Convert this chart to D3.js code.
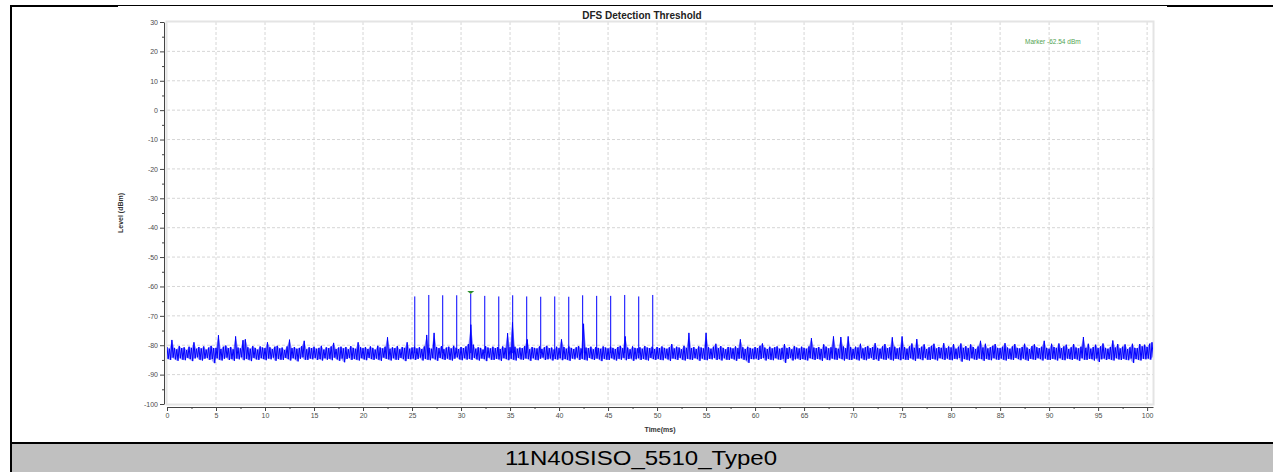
<!DOCTYPE html>
<html>
<head>
<meta charset="utf-8">
<script src="https://cdn.jsdelivr.net/npm/d3@7"></script>
<style>
  body { margin: 0; background: #fff; }
  svg text { font-family: "Liberation Sans", Arial, sans-serif; }
</style>
</head>
<body>
<script>
// axis ticks
var xTicks = [0, 5, 10, 15, 20, 25, 30, 35, 40, 45, 50, 55, 60, 65, 70, 75, 80, 85, 90, 95, 100];
var xMinorTicks = [2.5, 7.5, 12.5, 17.5, 22.5, 27.5, 32.5, 37.5, 42.5, 47.5, 52.5, 57.5, 62.5, 67.5, 72.5, 77.5, 82.5, 87.5, 92.5, 97.5];
var yTicks = [-100, -90, -80, -70, -60, -50, -40, -30, -20, -10, 0, 10, 20, 30];
var yMinorTicks = [-95, -85, -75, -65, -55, -45, -35, -25, -15, -5, 5, 15, 25];

// radar pulses (ms, dBm), rising from the noise floor
var pulseTimes = [25.28, 26.71, 28.13, 29.56, 30.99, 32.42, 33.85, 35.27, 36.70, 38.13, 39.56, 40.99, 42.41, 43.84, 45.27, 46.70, 48.13, 49.56];
var pulseLevels = [-63.4, -62.9, -63.0, -63.0, -62.5, -63.2, -63.4, -63.0, -63.4, -63.5, -63.4, -63.5, -63.0, -63.2, -63.2, -62.9, -63.4, -62.9];
var floorLevel = -82.7;
var markerIndex = 4;
var markerLevel = -62.54;

// noise floor, one high and one low reading every 0.25 ms
var noiseStep = 0.25;
var noiseHigh = [
  -80.6, -81.2, -78.2, -80.9, -81.4, -80.3, -81.0, -80.7, -81.6, -80.5, -80.9, -79.0, -81.2, -80.6, -81.1, -80.4, -81.5, -80.8, -80.2, -81.0,
  -80.9, -76.6, -81.3, -80.5, -80.1, -81.0, -80.6, -81.4, -77.0, -80.8, -81.1, -78.3, -78.0, -80.7, -81.2, -80.3, -80.9, -81.5, -80.4, -80.8,
  -81.0, -79.0, -80.7, -81.3, -80.5, -80.2, -81.1, -80.8, -81.6, -80.4, -78.1, -81.0, -80.6, -81.2, -80.9, -80.3, -78.5, -81.4, -80.7, -81.0,
  -80.5, -81.2, -80.9, -80.2, -81.5, -80.7, -81.0, -80.4, -79.2, -81.3, -80.8, -80.5, -81.1, -80.6, -81.4, -80.3, -80.9, -81.2, -79.0, -80.7,
  -81.0, -80.6, -81.3, -80.4, -80.9, -81.5, -80.2, -80.8, -81.1, -80.5, -77.3, -81.2, -80.7, -81.0, -80.3, -81.4, -80.6, -80.9, -79.0, -81.2,
  -80.8, -80.5, -81.1, -80.7, -81.3, -80.4, -76.5, -80.9, -81.2, -75.8, -80.6, -81.0, -80.3, -81.4, -80.8, -80.5, -81.1, -80.2, -80.9, -81.3,
  -80.6, -81.0, -80.4, -79.6, -73.0, -79.8, -81.2, -80.7, -80.9, -81.5, -80.3, -80.8, -81.1, -80.5, -81.0, -80.6, -81.3, -80.4, -80.9, -75.9,
  -80.7, -72.2, -80.5, -81.2, -80.8, -81.0, -80.3, -78.0, -81.4, -80.6, -80.9, -81.1, -80.4, -81.3, -80.7, -80.2, -81.0, -80.8, -81.5, -80.5,
  -81.0, -78.0, -80.6, -81.2, -80.4, -80.9, -81.3, -80.7, -80.3, -81.1, -72.7, -80.8, -81.0, -80.5, -81.4, -80.6, -80.9, -81.2, -80.4, -80.8,
  -81.1, -80.5, -80.9, -81.3, -80.6, -80.2, -81.0, -77.0, -80.8, -81.4, -80.4, -80.9, -81.1, -80.7, -81.2, -80.3, -80.8, -81.0, -80.5, -81.3,
  -80.6, -81.0, -80.4, -80.9, -81.2, -80.7, -79.6, -81.1, -80.5, -80.8, -81.4, -80.2, -80.9, -75.8, -81.0, -80.6, -81.3, -80.4, -80.8, -81.1,
  -75.8, -80.7, -81.2, -80.5, -79.5, -81.0, -80.3, -80.9, -81.4, -80.6, -80.8, -81.1, -80.4, -81.0, -78.0, -80.7, -81.3, -80.5, -80.9, -81.2,
  -80.6, -81.0, -80.2, -79.4, -80.8, -81.3, -80.5, -81.1, -80.7, -80.4, -81.2, -80.9, -79.6, -81.0, -80.6, -81.4, -80.3, -80.8, -81.1, -80.5,
  -80.9, -81.2, -80.4, -77.6, -80.8, -81.0, -80.6, -81.3, -79.7, -80.5, -81.1, -80.7, -77.0, -80.9, -81.2, -77.2, -80.4, -81.0, -77.0, -80.6,
  -81.3, -80.5, -80.8, -79.5, -81.1, -80.7, -80.3, -81.0, -80.6, -79.3, -80.9, -81.2, -80.4, -79.6, -81.0, -80.7, -77.3, -80.5, -81.1, -80.8,
  -77.0, -80.6, -81.2, -80.4, -79.4, -80.9, -77.9, -81.0, -80.5, -79.7, -81.3, -80.7, -80.2, -79.5, -81.1, -80.6, -80.9, -79.3, -81.0, -80.4,
  -80.8, -79.6, -81.2, -80.5, -79.4, -80.9, -80.3, -81.0, -79.7, -80.6, -81.3, -80.4, -78.5, -80.8, -79.5, -81.1, -80.7, -80.2, -79.6, -80.9,
  -81.0, -80.5, -79.3, -80.8, -81.2, -80.4, -79.6, -80.9, -81.1, -80.6, -79.5, -80.8, -81.3, -80.3, -79.7, -80.7, -81.0, -80.5, -78.5, -80.9,
  -81.2, -79.5, -80.6, -80.9, -79.4, -81.0, -80.4, -79.8, -81.3, -80.7, -79.6, -80.8, -81.1, -80.5, -77.2, -80.9, -79.5, -81.2, -80.6, -79.8,
  -81.0, -80.4, -79.4, -80.9, -81.2, -80.6, -78.4, -80.8, -79.6, -81.1, -80.5, -79.7, -81.3, -80.7, -79.5, -80.9, -81.0, -79.6, -80.4, -79.8,
  -80.6, -79.5, -79.0
];
var noiseLow = [
  -84.6, -85.0, -84.2, -84.8, -85.3, -84.4, -84.9, -85.1, -84.3, -84.7, -85.4, -84.5, -84.1, -84.9, -85.2, -84.6, -84.3, -85.0, -84.7, -86.1,
  -84.4, -84.9, -85.2, -84.6, -84.2, -85.0, -84.7, -85.3, -84.5, -84.8, -84.1, -85.1, -84.6, -84.9, -85.4, -84.3, -84.8, -85.0, -84.4, -84.7,
  -85.1, -84.5, -84.8, -84.2, -85.3, -84.6, -84.9, -85.0, -84.3, -84.7, -85.2, -84.4, -84.8, -85.5, -84.6, -84.1, -84.9, -85.0, -84.5, -84.8,
  -84.3, -85.0, -84.7, -85.2, -84.4, -84.9, -84.6, -85.1, -84.2, -84.8, -85.3, -84.5, -85.8, -84.7, -84.3, -85.0, -84.6, -84.9, -85.2, -84.4,
  -84.8, -85.1, -84.3, -84.7, -85.0, -84.5, -84.9, -85.3, -84.2, -84.6, -84.8, -85.2, -84.4, -84.9, -85.0, -84.3, -84.7, -85.4, -84.6, -84.8,
  -84.5, -85.0, -84.7, -84.2, -85.2, -84.6, -84.9, -85.1, -84.4, -84.8, -85.3, -84.3, -84.7, -85.0, -84.5, -84.9, -85.2, -84.6, -84.1, -84.8,
  -85.1, -84.4, -84.9, -84.6, -85.0, -84.3, -84.8, -85.2, -84.5, -84.7, -85.4, -84.2, -84.9, -85.0, -84.6, -84.8, -85.3, -84.4, -84.7, -85.1,
  -84.6, -84.9, -85.2, -84.3, -84.8, -85.0, -84.5, -84.7, -85.3, -84.4, -84.9, -85.1, -84.6, -84.2, -85.0, -84.8, -84.5, -85.2, -84.7, -84.9,
  -84.4, -85.1, -84.7, -84.9, -85.3, -84.5, -84.8, -84.2, -85.0, -84.6, -84.9, -85.2, -84.3, -84.7, -85.0, -84.5, -84.8, -85.4, -84.6, -84.9,
  -85.0, -84.4, -84.8, -85.2, -84.6, -84.9, -84.3, -85.1, -84.7, -84.5, -85.3, -84.8, -84.4, -85.0, -84.6, -84.9, -85.2, -84.3, -84.7, -85.0,
  -84.6, -84.9, -85.1, -84.4, -84.8, -85.3, -84.5, -84.7, -85.0, -84.3, -84.9, -85.2, -84.6, -84.8, -85.0, -84.4, -84.7, -85.3, -84.5, -84.9,
  -85.1, -84.6, -84.8, -84.3, -85.0, -84.7, -85.2, -84.4, -84.9, -85.0, -84.5, -84.8, -85.3, -84.6, -84.4, -84.9, -85.1, -86.0, -84.7, -84.8,
  -84.5, -85.0, -84.7, -84.3, -85.2, -84.6, -84.9, -85.1, -84.4, -84.8, -85.0, -84.6, -86.0, -84.7, -84.3, -85.2, -84.8, -84.5, -85.0, -84.7,
  -84.9, -85.2, -84.4, -84.7, -85.0, -84.6, -84.8, -85.3, -84.3, -84.9, -85.1, -84.5, -84.8, -85.0, -84.4, -84.7, -85.2, -84.6, -84.9, -85.0,
  -84.5, -84.8, -85.2, -84.4, -84.9, -85.1, -84.6, -84.3, -85.0, -84.7, -85.3, -84.5, -84.8, -85.0, -84.4, -84.9, -85.2, -84.6, -84.7, -85.1,
  -84.6, -84.9, -85.0, -84.4, -84.8, -85.3, -84.5, -84.7, -85.1, -84.3, -84.9, -85.0, -84.6, -84.8, -85.2, -84.4, -84.7, -85.0, -84.5, -84.9,
  -85.1, -84.6, -84.8, -84.3, -85.6, -84.7, -84.9, -85.2, -84.4, -84.8, -85.0, -84.5, -84.7, -85.3, -84.6, -84.9, -85.1, -84.4, -84.8, -85.0,
  -84.5, -84.9, -85.2, -84.6, -84.8, -85.0, -84.3, -84.7, -85.1, -84.5, -84.9, -85.3, -84.6, -84.8, -85.0, -84.4, -84.7, -85.2, -84.5, -84.9,
  -85.0, -84.6, -84.8, -85.2, -84.4, -84.9, -85.1, -84.5, -84.7, -85.0, -84.6, -84.8, -85.3, -84.4, -84.9, -85.0, -84.6, -84.7, -85.2, -84.5,
  -85.7, -84.8, -84.5, -85.0, -84.7, -84.9, -85.2, -84.4, -84.8, -85.0, -84.6, -84.9, -85.1, -84.5, -86.0, -84.7, -84.9, -85.2, -84.6, -84.8,
  -84.5, -84.9, -84.2
];

var width = 1273;
var height = 472;

var svg = d3.select("body").append("svg")
  .attr("width", width)
  .attr("height", height);

// scales (plot area)
var x = d3.scaleLinear().domain([0, 100.6]).range([167, 1153]);
var y = d3.scaleLinear().domain([-100, 30]).range([404, 22]);

var plotLeft = x.range()[0], plotRight = x.range()[1];
var plotTop = y.range()[1], plotBottom = y.range()[0];

// outer report table
svg.append("rect")
  .attr("x", 12).attr("y", 444)
  .attr("width", width - 12).attr("height", height - 444)
  .attr("fill", "#c0c0c0");
svg.append("line")
  .attr("x1", 10).attr("x2", width).attr("y1", 443).attr("y2", 443)
  .attr("stroke", "#000").attr("stroke-width", 2);
svg.append("line")
  .attr("x1", 11).attr("x2", 11).attr("y1", 5).attr("y2", height)
  .attr("stroke", "#000").attr("stroke-width", 2);
svg.append("line")
  .attr("x1", 10).attr("x2", width).attr("y1", 5.5).attr("y2", 5.5)
  .attr("stroke", "#000").attr("stroke-width", 1);
svg.append("line")
  .attr("x1", 10).attr("x2", 118).attr("y1", 6).attr("y2", 6)
  .attr("stroke", "#000").attr("stroke-width", 2);
svg.append("line")
  .attr("x1", 1167).attr("x2", width).attr("y1", 6).attr("y2", 6)
  .attr("stroke", "#000").attr("stroke-width", 2);

svg.append("text")
  .attr("x", 641).attr("y", 465)
  .attr("text-anchor", "middle")
  .attr("textLength", 272)
  .attr("lengthAdjust", "spacingAndGlyphs")
  .style("font-size", "21px")
  .attr("fill", "#000")
  .text("11N40SISO_5510_Type0");

// grid
var grid = svg.append("g").attr("class", "grid");
grid.selectAll("line.vx")
  .data(xTicks.filter(d => d > 0))
  .enter().append("line")
  .attr("x1", d => x(d)).attr("x2", d => x(d))
  .attr("y1", plotTop).attr("y2", plotBottom)
  .attr("stroke", "#d6d6d6").attr("stroke-dasharray", "3,2");
grid.selectAll("line.hy")
  .data(yTicks.filter(d => d > -100 && d < 30))
  .enter().append("line")
  .attr("x1", plotLeft).attr("x2", plotRight)
  .attr("y1", d => y(d)).attr("y2", d => y(d))
  .attr("stroke", "#d6d6d6").attr("stroke-dasharray", "3,2");

// plot frame
svg.append("rect")
  .attr("x", plotLeft - 0.5).attr("y", plotTop - 0.5)
  .attr("width", plotRight - plotLeft + 1).attr("height", plotBottom - plotTop + 1)
  .attr("fill", "none")
  .attr("stroke", "#e4e4e4").attr("stroke-width", 2);

// noise trace
var noise = noiseHigh.map(function(v, i) {
  return {t: i * noiseStep, hi: v, lo: noiseLow[i]};
});
var trace = [];
noise.forEach(function(d) {
  trace.push({t: d.t, v: d.hi});
  trace.push({t: d.t + noiseStep / 2, v: d.lo});
});

svg.append("clipPath").attr("id", "plotClip")
  .append("rect")
  .attr("x", plotLeft).attr("y", plotTop)
  .attr("width", plotRight - plotLeft).attr("height", plotBottom - plotTop);

var plot = svg.append("g").attr("clip-path", "url(#plotClip)");

// light envelope behind the trace
plot.append("path")
  .datum(noise)
  .attr("fill", "#0000ff")
  .attr("fill-opacity", 0.4)
  .attr("d", d3.area()
    .x(d => x(d.t))
    .y0(d => y(d.lo))
    .y1(d => y(d.hi)));

plot.append("path")
  .datum(trace)
  .attr("fill", "none")
  .attr("stroke", "#0000ff")
  .attr("stroke-width", 1)
  .attr("d", d3.line().x(d => x(d.t)).y(d => y(d.v)));

// pulses
plot.selectAll("line.pulse")
  .data(pulseTimes)
  .enter().append("line")
  .attr("class", "pulse")
  .attr("x1", d => x(d)).attr("x2", d => x(d))
  .attr("y1", y(floorLevel))
  .attr("y2", (d, i) => y(pulseLevels[i]))
  .attr("stroke", "#0000ff")
  .attr("stroke-width", 1);

// marker
var mx = x(pulseTimes[markerIndex]), my = y(markerLevel);
svg.append("path")
  .attr("d", "M" + (mx - 3.5) + "," + (my - 3) + "L" + (mx + 3.5) + "," + (my - 3) + "L" + mx + "," + my + "Z")
  .attr("fill", "#2f8f2f");
svg.append("text")
  .attr("x", 1025).attr("y", 44)
  .style("font-size", "6.5px")
  .attr("fill", "#52a352")
  .text("Marker -" + Math.abs(markerLevel).toFixed(2) + " dBm");

// axes
svg.append("g")
  .attr("transform", "translate(" + (plotLeft - 3) + ",0)")
  .call(d3.axisLeft(y).tickValues(yTicks).tickSize(4).tickSizeOuter(0).tickPadding(2).tickFormat(d3.format("d")));
svg.append("g")
  .attr("transform", "translate(" + (plotLeft - 3) + ",0)")
  .call(d3.axisLeft(y).tickValues(yMinorTicks).tickSize(2).tickFormat(""))
  .select(".domain").remove();

svg.append("g")
  .attr("transform", "translate(0," + (plotBottom + 3) + ")")
  .call(d3.axisBottom(x).tickValues(xTicks).tickSize(4).tickSizeOuter(0).tickPadding(2));
svg.append("g")
  .attr("transform", "translate(0," + (plotBottom + 3) + ")")
  .call(d3.axisBottom(x).tickValues(xMinorTicks).tickSize(2).tickFormat(""))
  .select(".domain").remove();

svg.selectAll(".tick line, .domain").attr("stroke", "#444");
svg.selectAll(".tick text")
  .attr("fill", "#4d4d4d")
  .style("font-size", "7px")
  .text(function() { return d3.select(this).text().replace("\u2212", "-"); });

// titles
svg.append("text")
  .attr("x", 642).attr("y", 19)
  .attr("text-anchor", "middle")
  .style("font-size", "10px").style("font-weight", "bold")
  .attr("fill", "#222")
  .text("DFS Detection Threshold");

svg.append("text")
  .attr("x", (plotLeft + plotRight) / 2).attr("y", 432)
  .attr("text-anchor", "middle")
  .style("font-size", "7px").style("font-weight", "bold")
  .attr("fill", "#333")
  .text("Time(ms)");

svg.append("text")
  .attr("transform", "translate(123," + (plotTop + plotBottom) / 2 + ") rotate(-90)")
  .attr("text-anchor", "middle")
  .style("font-size", "7px").style("font-weight", "bold")
  .attr("fill", "#333")
  .text("Level (dBm)");
</script>
</body>
</html>
